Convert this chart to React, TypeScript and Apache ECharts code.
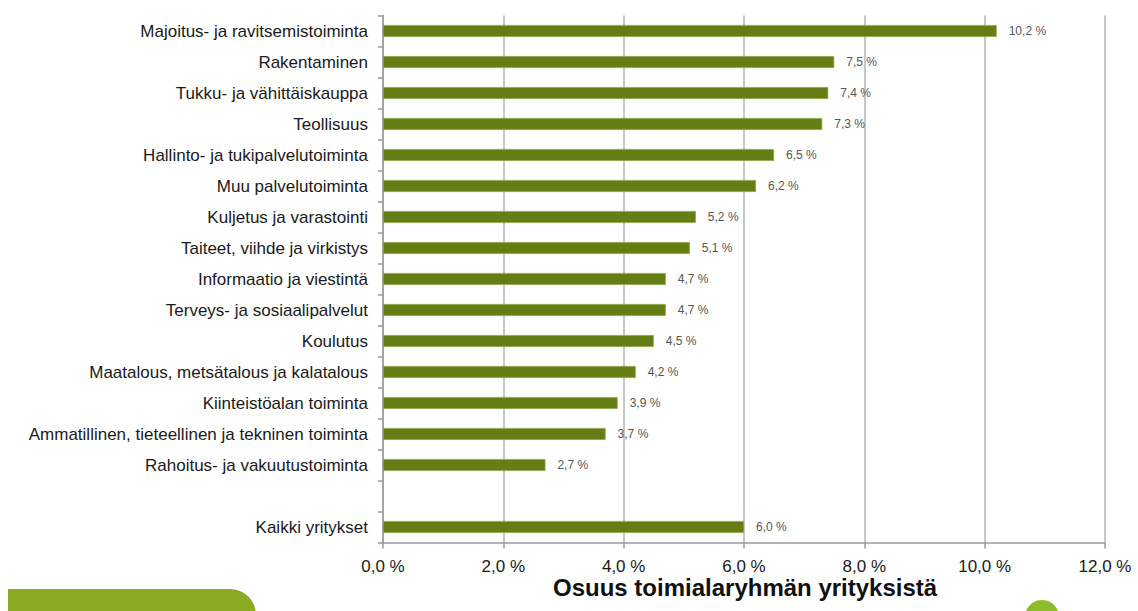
import React, { useEffect, useRef } from "react";
import * as echarts from "echarts";

const categories = [
  "Majoitus- ja ravitsemistoiminta",
  "Rakentaminen",
  "Tukku- ja vähittäiskauppa",
  "Teollisuus",
  "Hallinto- ja tukipalvelutoiminta",
  "Muu palvelutoiminta",
  "Kuljetus ja varastointi",
  "Taiteet, viihde ja virkistys",
  "Informaatio ja viestintä",
  "Terveys- ja sosiaalipalvelut",
  "Koulutus",
  "Maatalous, metsätalous ja kalatalous",
  "Kiinteistöalan toiminta",
  "Ammatillinen, tieteellinen ja tekninen toiminta",
  "Rahoitus- ja vakuutustoiminta",
  "",
  "Kaikki yritykset",
];

const values: (number | null)[] = [
  10.2, 7.5, 7.4, 7.3, 6.5, 6.2, 5.2, 5.1, 4.7, 4.7, 4.5, 4.2, 3.9, 3.7, 2.7, null, 6.0,
];

const xTicks = [0, 2, 4, 6, 8, 10, 12];
const axisTitle = "Osuus toimialaryhmän yrityksistä";

const fmt = (v: number) => v.toFixed(1).replace(".", ",") + " %";

export default function App() {
  const ref = useRef<HTMLDivElement>(null);
  useEffect(() => {
    if (!ref.current) return;
    const chart = echarts.init(ref.current, null, { renderer: "svg" });
    const font = "'Liberation Sans', Arial, Helvetica, sans-serif";
    chart.setOption({
      animation: false,
      backgroundColor: "#ffffff",
      grid: { left: 383, right: 33, top: 15.5, bottom: 68.5, containLabel: false },
      xAxis: {
        type: "value",
        min: xTicks[0],
        max: xTicks[xTicks.length - 1],
        interval: 2,
        axisLine: { show: true, lineStyle: { color: "#999", width: 1.5 } },
        axisTick: { show: true, length: 6, lineStyle: { color: "#999", width: 1.5 } },
        splitLine: { show: true, lineStyle: { color: "#b5b5b5", width: 1.5 } },
        axisLabel: {
          formatter: (v: number) => fmt(v),
          fontSize: 17,
          color: "#1a1a1a",
          fontFamily: font,
          margin: 15,
        },
      },
      yAxis: {
        type: "category",
        inverse: true,
        data: categories,
        axisLine: { show: true, lineStyle: { color: "#999", width: 1.5 } },
        axisTick: { show: true, length: 5, lineStyle: { color: "#999", width: 1.5 } },
        axisLabel: {
          fontSize: 17,
          color: "#1a1a1a",
          fontFamily: font,
          margin: 15,
          interval: 0,
        },
      },
      series: [
        {
          type: "bar",
          data: values,
          barWidth: 12,
          itemStyle: { color: "#647e13", borderColor: "#8ea24c", borderWidth: 0.8 },
          label: {
            show: true,
            position: "right",
            distance: 12,
            fontSize: 12,
            color: "#555",
            fontFamily: font,
            formatter: (p: any) => (p.value == null ? "" : fmt(p.value)),
          },
        },
      ],
      graphic: [
        {
          type: "text",
          left: 553,
          top: 575,
          style: {
            text: axisTitle,
            font: `bold 24px ${font}`,
            fill: "#111",
          },
        },
        {
          type: "rect",
          shape: { x: 8, y: 589, width: 248, height: 60, r: [0, 26, 0, 0] },
          style: { fill: "#8aab23" },
        },
        {
          type: "circle",
          shape: { cx: 1042, cy: 617, r: 17 },
          style: { fill: "#8dbb2a" },
        },
      ],
    });
    return () => chart.dispose();
  }, []);
  return (
    <div
      ref={ref}
      style={{ position: "absolute", left: 0, top: 0, width: 1138, height: 611 }}
    />
  );
}
